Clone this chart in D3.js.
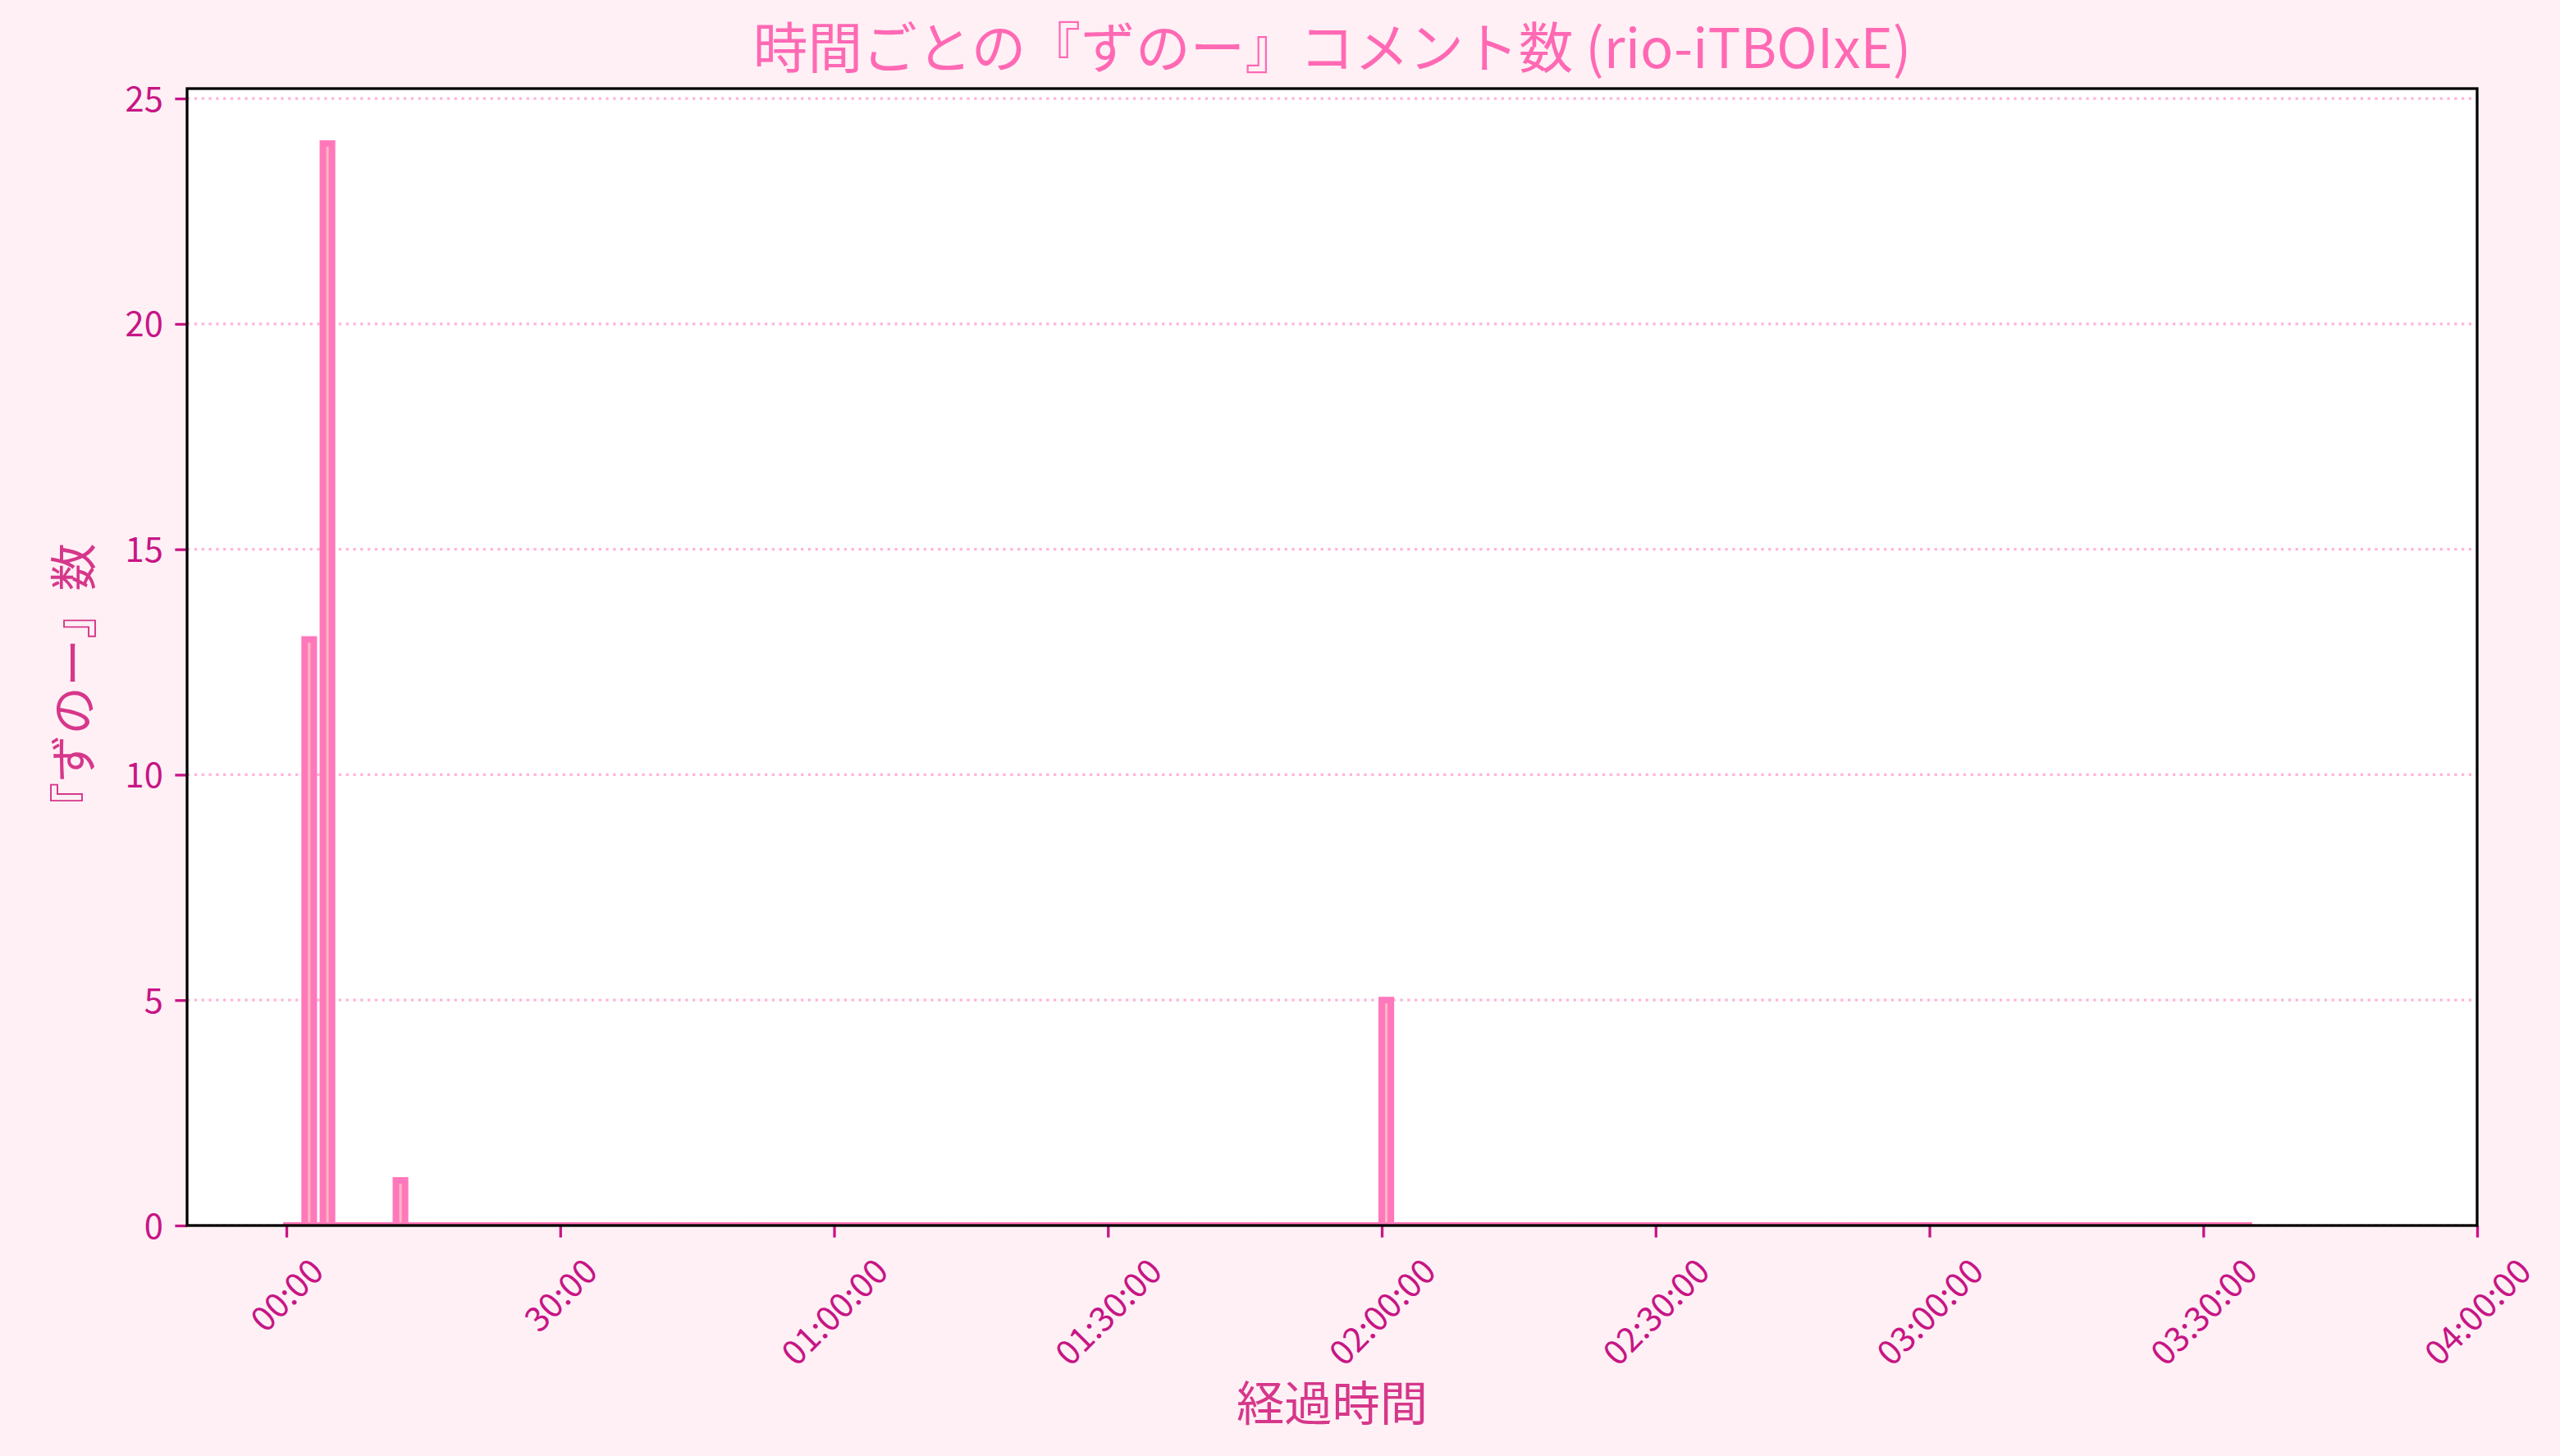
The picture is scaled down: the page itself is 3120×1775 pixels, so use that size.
<!DOCTYPE html>
<html>
<head>
<meta charset="utf-8">
<script src="https://cdn.jsdelivr.net/npm/d3@7"></script>
<style>
  html, body { margin: 0; padding: 0; background: #fff0f5; }
  svg { display: block; }
  text { font-family: "Noto Sans CJK JP", "Noto Sans", sans-serif; }
</style>
</head>
<body>
<svg id="chart" width="3120" height="1775"></svg>
<script>
// ---- data (minutes since start, 1-minute bins) ----
const titleText = "時間ごとの『ずのー』コメント数 (rio-iTBOIxE)";
const xLabelText = "経過時間";
const yLabelText = "『ずのー』数";
const firstBinMinute = 0;
const lastBinMinute = 214;          // last drawn (empty) bin
const spikeMinutes = [2, 4, 12, 120];
const spikeCounts  = [13, 24, 1, 5];
const xTickMinutes = [0, 30, 60, 90, 120, 150, 180, 210, 240];
const xTickLabels  = ["00:00", "30:00", "01:00:00", "01:30:00", "02:00:00", "02:30:00", "03:00:00", "03:30:00", "04:00:00"];
const yTickValues  = [0, 5, 10, 15, 20, 25];

// bins: every minute is a bin; those not listed are zero
const bins = d3.range(firstBinMinute, lastBinMinute + 1).map(m => {
  const i = spikeMinutes.indexOf(m);
  return { minute: m, count: i >= 0 ? spikeCounts[i] : 0 };
});

// ---- layout ----
const W = 3120, H = 1775;
const plot = { left: 228, top: 108, right: 3019, bottom: 1494 };
const svg = d3.select("#chart");
svg.append("rect").attr("width", W).attr("height", H).attr("fill", "#fff0f5");

const x = d3.scaleLinear().domain([-10.88, 240]).range([plot.left, plot.right]);
const y = d3.scaleLinear().domain([0, 25.22]).range([plot.bottom, plot.top]);

svg.append("rect")
  .attr("x", plot.left).attr("y", plot.top)
  .attr("width", plot.right - plot.left).attr("height", plot.bottom - plot.top)
  .attr("fill", "#ffffff");

svg.append("clipPath").attr("id", "clip")
  .append("rect")
  .attr("x", plot.left).attr("y", plot.top)
  .attr("width", plot.right - plot.left).attr("height", plot.bottom - plot.top);

// grid (y only, dotted)
const grid = svg.append("g").attr("clip-path", "url(#clip)");
grid.selectAll("line").data(yTickValues).join("line")
  .attr("x1", plot.left).attr("x2", plot.right)
  .attr("y1", d => y(d)).attr("y2", d => y(d))
  .attr("stroke", "#ffb4d9").attr("stroke-width", 3.3)
  .attr("stroke-dasharray", "3.3,5.5");

// bars
const bars = svg.append("g").attr("clip-path", "url(#clip)");
bars.selectAll("rect").data(bins).join("rect")
  .attr("x", d => x(d.minute))
  .attr("width", d => x(d.minute + 1) - x(d.minute))
  .attr("y", d => y(d.count) - (d.count === 0 ? 0.01 : 0))
  .attr("height", d => Math.max(y(0) - y(d.count), 0.01))
  .attr("fill", "#ffb6c1")
  .attr("stroke", "#ff78bb")
  .attr("stroke-width", 8);

// axes
const tickColor = "#c71585";
const tickLen = 14.6, tickPad = 14.6, tickFs = 41.7;
const xAxis = d3.axisBottom(x).tickValues(xTickMinutes)
  .tickFormat((d, i) => xTickLabels[i]).tickSize(tickLen).tickPadding(tickPad);
const yAxis = d3.axisLeft(y).tickValues(yTickValues)
  .tickFormat(d3.format("d")).tickSize(tickLen).tickPadding(tickPad);

const gx = svg.append("g").attr("transform", `translate(0,${plot.bottom})`).call(xAxis);
const gy = svg.append("g").attr("transform", `translate(${plot.left},0)`).call(yAxis);
[gx, gy].forEach(g => {
  g.select(".domain").remove();
  g.selectAll(".tick line").attr("stroke", tickColor).attr("stroke-width", 3.3);
  g.selectAll(".tick text").attr("fill", tickColor).attr("font-size", tickFs)
    .attr("font-family", '"Noto Sans CJK JP", sans-serif');
});
gy.selectAll(".tick text").attr("dy", "0.36em");

// rotated x tick labels, bounding box centred on tick
gx.selectAll(".tick text").each(function() {
  const t = d3.select(this);
  t.attr("y", 0).attr("dy", null).attr("text-anchor", "middle")
   .attr("dominant-baseline", "central");
  const w = this.getComputedTextLength();
  const h = tickFs * 1.0;
  const top = tickLen + tickPad + 2;
  const cy = top + (w + h) * Math.SQRT1_2 / 2;
  t.attr("transform", `translate(-2,${cy}) rotate(-45)`);
});

// spines
svg.append("rect")
  .attr("x", plot.left).attr("y", plot.top)
  .attr("width", plot.right - plot.left).attr("height", plot.bottom - plot.top)
  .attr("fill", "none").attr("stroke", "#000").attr("stroke-width", 3.3);

// title & labels
svg.append("text").attr("x", (plot.left + plot.right) / 2).attr("y", 83)
  .attr("text-anchor", "middle").attr("font-size", 66.7).attr("fill", "#ff69b4")
  .text(titleText);

svg.append("text").attr("x", (plot.left + plot.right) / 2).attr("y", 1732)
  .attr("text-anchor", "middle").attr("font-size", 58.3).attr("fill", "#d6378a")
  .text(xLabelText);

const labelFs = 58.3;
svg.append("text")
  .attr("transform", `translate(111,1012) rotate(-90)`)
  .attr("text-anchor", "start").attr("font-size", labelFs).attr("fill", "#d6378a")
  .attr("textLength", labelFs * yLabelText.length).attr("lengthAdjust", "spacing")
  .text(yLabelText);
</script>
</body>
</html>
